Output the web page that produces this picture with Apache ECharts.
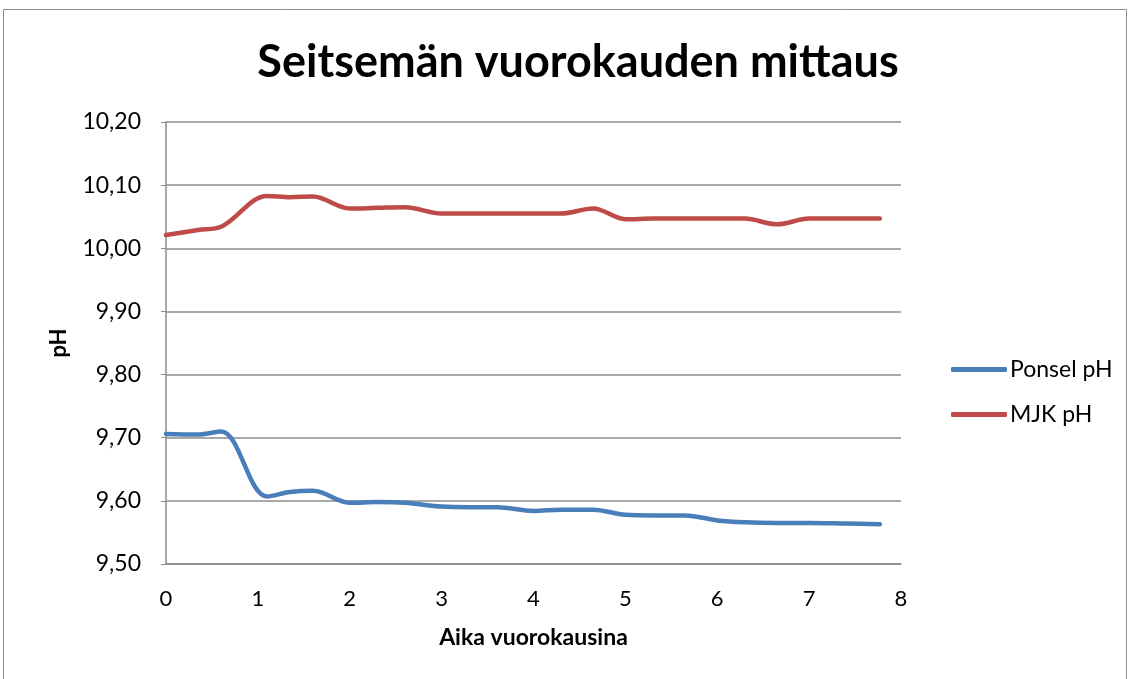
<!DOCTYPE html>
<html>
<head>
<meta charset="utf-8">
<script src="https://cdn.jsdelivr.net/npm/echarts@6/dist/echarts.min.js"></script>
<style>
  html, body { margin: 0; padding: 0; background: #fff; }
  #chart { width: 1132px; height: 679px; }
</style>
</head>
<body>
<div id="chart"></div>
<script>
// aika vuorokausina (x) ja pH-arvot
const days = [0, 0.35, 0.6, 1.1, 1.35, 1.6, 2.0, 2.3, 2.6, 3.0, 3.3, 3.6, 4.0, 4.3, 4.65, 5.0, 5.3, 5.65, 6.0, 6.3, 6.65, 7.0, 7.4, 7.77];
const ponselPH = [9.706, 9.705, 9.710, 9.607, 9.614, 9.616, 9.597, 9.598, 9.597, 9.591, 9.590, 9.590, 9.584, 9.586, 9.586, 9.578, 9.577, 9.577, 9.569, 9.566, 9.565, 9.565, 9.564, 9.563];
const mjkPH = [10.021, 10.029, 10.034, 10.083, 10.081, 10.082, 10.063, 10.064, 10.065, 10.055, 10.055, 10.055, 10.055, 10.055, 10.063, 10.046, 10.047, 10.047, 10.047, 10.047, 10.038, 10.047, 10.047, 10.047];
const seriesNames = ['Ponsel pH', 'MJK pH'];

const font = 'Lato, "Open Sans", sans-serif';
const chart = echarts.init(document.getElementById('chart'));

const option = {
  backgroundColor: '#fff',
  animation: false,
  graphic: [{
    type: 'rect',
    shape: { x: 3.5, y: 9.5, width: 1123, height: 700 },
    style: { fill: 'none', stroke: '#8c8c8c', lineWidth: 1 }
  }],
  title: {
    text: 'Seitsemän vuorokauden mittaus',
    left: 573, top: 35, textAlign: 'center',
    textStyle: { fontFamily: font, fontSize: 45, fontWeight: 'bold', color: '#000' }
  },
  legend: {
    orient: 'vertical',
    left: 946, top: 353,
    itemWidth: 56, itemHeight: 5, itemGap: 22,
    icon: 'roundRect',
    textStyle: { fontFamily: font, fontSize: 23, color: '#000', padding: [0, 0, 0, -2] },
    data: seriesNames
  },
  grid: { left: 166, right: 231, top: 122, bottom: 115 },
  xAxis: {
    type: 'value', min: 0, max: 8, interval: 1,
    name: 'Aika vuorokausina', nameLocation: 'middle', nameGap: 62,
    nameTextStyle: { fontFamily: font, fontSize: 23, fontWeight: 'bold', color: '#000' },
    axisLine: { show: true, lineStyle: { color: '#8c8c8c', width: 1.5 } },
    axisTick: { show: false },
    splitLine: { show: false },
    axisLabel: { fontFamily: font, fontSize: 22, color: '#000', margin: 24 }
  },
  yAxis: {
    type: 'value', min: 9.5, max: 10.2, interval: 0.1,
    name: 'pH', nameLocation: 'middle', nameGap: 96, nameRotate: 90,
    nameTextStyle: { fontFamily: font, fontSize: 22, fontWeight: 'bold', color: '#000' },
    axisLine: { show: true, lineStyle: { color: '#8c8c8c', width: 1.5 } },
    axisTick: { show: true, length: 5, lineStyle: { color: '#8c8c8c' } },
    splitLine: { lineStyle: { color: '#8c8c8c', width: 1.5 } },
    axisLabel: {
      fontFamily: font, fontSize: 23, color: '#000', margin: 25,
      formatter: v => v.toFixed(2).replace('.', ',')
    }
  },
  series: [
    {
      name: seriesNames[0], type: 'line', smooth: 0.35, showSymbol: false,
      color: '#4a7ebb', lineStyle: { width: 4.5, cap: 'round' },
      data: days.map((d, i) => [d, ponselPH[i]])
    },
    {
      name: seriesNames[1], type: 'line', smooth: 0.35, showSymbol: false,
      color: '#be4b48', lineStyle: { width: 4.5, cap: 'round' },
      data: days.map((d, i) => [d, mjkPH[i]])
    }
  ]
};
chart.setOption(option);
</script>
</body>
</html>
